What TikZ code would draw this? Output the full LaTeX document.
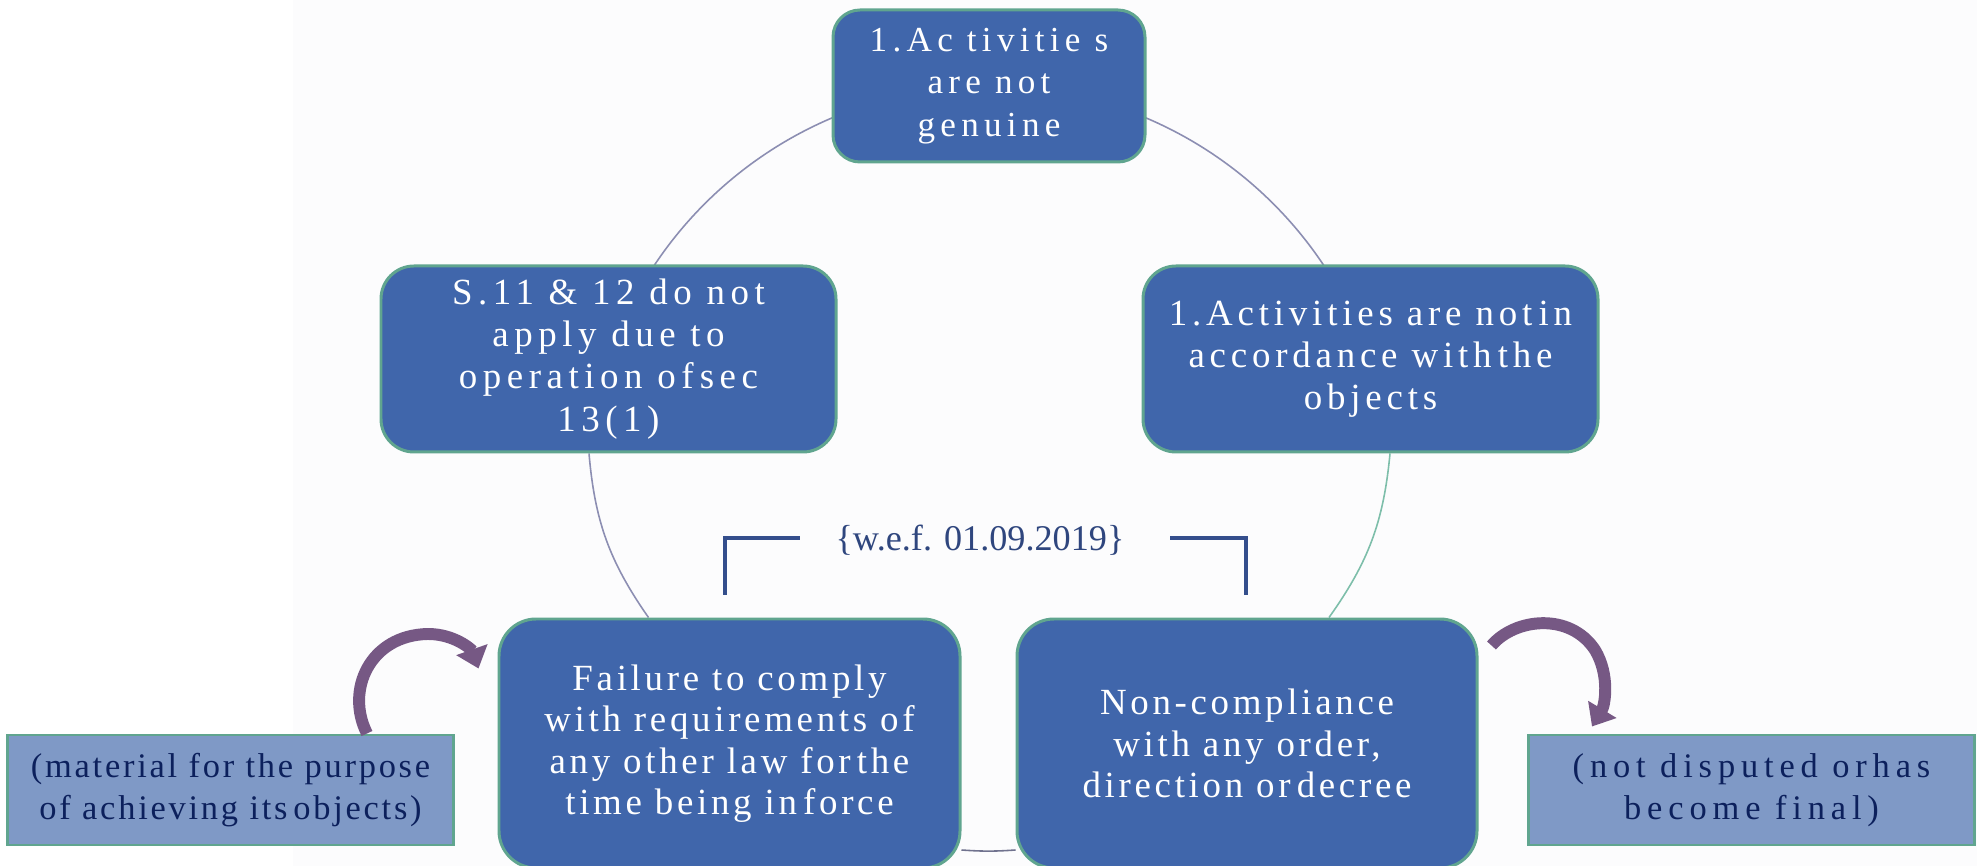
\documentclass[tikz,border=0pt]{standalone}
\usepackage{fontspec}
\setmainfont{Liberation Serif}
\usetikzlibrary{arrows.meta,backgrounds}

\definecolor{boxblue}{RGB}{64,102,171}
\definecolor{boxedge}{RGB}{96,165,143}
\definecolor{noteblue}{RGB}{127,153,198}
\definecolor{notetext}{RGB}{12,32,92}
\definecolor{arcline}{RGB}{140,142,178}
\definecolor{arcteal}{RGB}{125,190,170}
\definecolor{bentpurple}{RGB}{118,88,132}
\definecolor{bracketblue}{RGB}{52,78,140}
\definecolor{backdrop}{RGB}{252,252,253}

\tikzset{
  stage/.style={draw=boxedge, line width=0.85pt, fill=boxblue, text=white,
    align=center, inner sep=0pt},
  note/.style={draw=boxedge, line width=0.85pt, fill=noteblue, text=notetext,
    align=center, inner sep=0pt, minimum width=4.46cm, minimum height=1.10cm,
    font=\fontsize{9.8}{12}\selectfont\addfontfeature{LetterSpace=8}},
  cyclearc/.style={draw=arcline, line width=0.45pt},
  bentarrow/.style={draw=bentpurple, line width=3.4pt,
    -{Triangle[width=0.32cm,length=0.2cm]}},
  wefbracket/.style={draw=bracketblue, line width=0.9pt},
}

\begin{document}
\begin{tikzpicture}[scale=1.0]
\useasboundingbox (0,0) rectangle (19.77,8.66);
% boxes of the cycle
\node[stage, rounded corners=0.27cm, minimum width=3.12cm, minimum height=1.52cm,
  font=\fontsize{10}{12}\selectfont\addfontfeature{LetterSpace=15}] (top) at (9.89,7.80)
  {1.Ac tivitie s\\are not\\genuine};
\node[stage, rounded corners=0.33cm, minimum width=4.55cm, minimum height=1.86cm,
  font=\fontsize{10.5}{12}\selectfont\addfontfeature{LetterSpace=15}] (lbox) at (6.085,5.07)
  {S.11 \& 12 do not\\apply due to\\operation of\,sec\\13(1)};
\node[stage, rounded corners=0.33cm, minimum width=4.55cm, minimum height=1.86cm,
  font=\fontsize{10.5}{12}\selectfont\addfontfeature{LetterSpace=13}] (rbox) at (13.705,5.07)
  {1.Activities are not\,in\\accordance with\,the\\objects};
\node[stage, rounded corners=0.37cm, minimum width=4.61cm, minimum height=2.49cm,
  font=\fontsize{10.5}{11.8}\selectfont\addfontfeature{LetterSpace=10}] (blbox) at (7.295,1.225)
  {Failure to comply\\with requirements of\\any other law for\,the\\time being in\,force};
\node[stage, rounded corners=0.37cm, minimum width=4.60cm, minimum height=2.49cm,
  font=\fontsize{10.5}{11.8}\selectfont\addfontfeature{LetterSpace=10}] (brbox) at (12.47,1.225)
  {Non-compliance\\with any order,\\direction or\,decree};
% side notes
\node[note] (lnote) at (2.305,0.76) {(material for the purpose\\of achieving its\,objects)};
\node[note, font=\fontsize{9.8}{12}\selectfont\addfontfeature{LetterSpace=17}] (rnote) at (17.515,0.76)
  {(not disputed or\,has\\become final)};
\node[text=bracketblue!90!black, inner sep=0pt, font=\fontsize{10.3}{12}\selectfont] (wef) at (9.80,3.26)
  {\{w.e.f. 01.09.2019\}};
\coordinate (lfoot) at (7.25,2.71);
\coordinate (rfoot) at (12.46,2.71);

% cycle connectors, under the boxes
\begin{scope}[on background layer]
\fill[backdrop] (2.93,0) rectangle (19.77,8.66);
\draw[cyclearc] (top.center) arc[start angle=90, end angle=161.3, radius=4.02cm];
\draw[cyclearc] (top.center) arc[start angle=90, end angle=18.7, radius=4.02cm];
\draw[cyclearc] ([xshift=-0.195cm]lbox.south) to[bend right=15] ([xshift=-0.81cm]blbox.north);
\draw[cyclearc, draw=arcteal] ([xshift=0.195cm]rbox.south) to[bend left=15] ([xshift=0.82cm]brbox.north);
\draw[cyclearc, draw=arcline!80!black] ([yshift=-1.065cm]blbox.east) to[bend right=4] ([yshift=-1.065cm]brbox.west);
\end{scope}

\draw[wefbracket] ([xshift=-0.35cm,yshift=0.02cm]wef.west) -| (lfoot);
\draw[wefbracket] ([xshift=0.45cm,yshift=0.02cm]wef.east) -| (rfoot);
\draw[bentarrow] ([xshift=1.365cm]lnote.north) .. controls (3.45,1.76) and (3.70,2.31) .. (4.28,2.32)
  .. controls (4.55,2.32) and (4.72,2.16) .. ([xshift=-0.19cm,yshift=-0.51cm]blbox.north west);
\draw[bentarrow] ([xshift=0.13cm,yshift=-0.28cm]brbox.north east) .. controls (15.15,2.48) and (15.70,2.54) .. (15.95,2.16)
  .. controls (16.10,1.91) and (16.05,1.61) .. ([xshift=-1.595cm,yshift=0.07cm]rnote.north);
\end{tikzpicture}
\end{document}
